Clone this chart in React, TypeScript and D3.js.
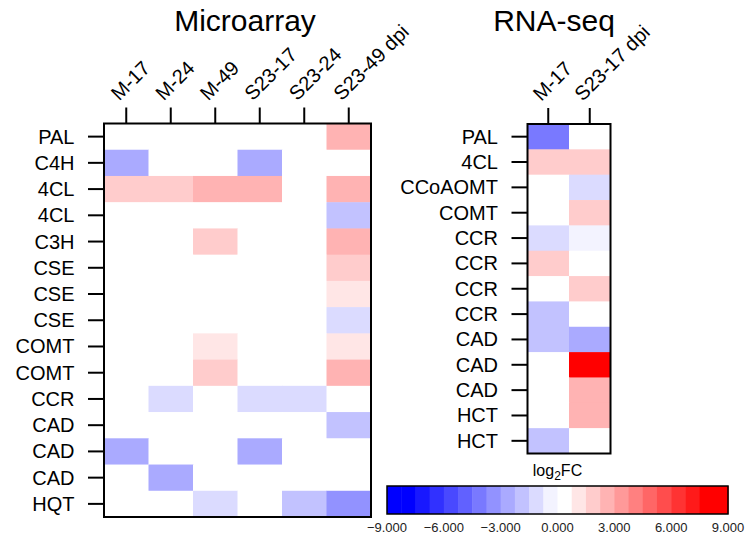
import React from 'react';
import * as d3 from 'd3';

const maGenes = ["PAL", "C4H", "4CL", "4CL", "C3H", "CSE", "CSE", "CSE", "COMT", "COMT", "CCR", "CAD", "CAD", "CAD", "HQT"];
const maSamples = ["M-17", "M-24", "M-49", "S23-17", "S23-24", "S23-49 dpi"];
const maValues = [
  [0, 0, 0, 0, 0, 2.6],
  [-2.6, 0, 0, -2.6, 0, 0],
  [1.9, 1.9, 2.6, 2.6, 0, 2.6],
  [0, 0, 0, 0, 0, -1.9],
  [0, 0, 1.9, 0, 0, 2.6],
  [0, 0, 0, 0, 0, 1.9],
  [0, 0, 0, 0, 0, 1.1],
  [0, 0, 0, 0, 0, -1.1],
  [0, 0, 1.1, 0, 0, 1.1],
  [0, 0, 1.9, 0, 0, 2.6],
  [0, -1.1, 0, -1.1, -1.1, 0],
  [0, 0, 0, 0, 0, -1.9],
  [-2.6, 0, 0, -2.6, 0, 0],
  [0, -2.6, 0, 0, 0, 0],
  [0, 0, -1.1, 0, -1.9, -3.4],
];

const rsGenes = ["PAL", "4CL", "CCoAOMT", "COMT", "CCR", "CCR", "CCR", "CCR", "CAD", "CAD", "CAD", "HCT", "HCT"];
const rsSamples = ["M-17", "S23-17 dpi"];
const rsValues = [
  [-4.1, 0],
  [1.9, 1.9],
  [0, -1.1],
  [0, 1.9],
  [-1.1, -0.4],
  [1.9, 0],
  [0, 1.9],
  [-1.9, 0],
  [-1.9, -2.6],
  [0, 8.5],
  [0, 2.6],
  [0, 2.6],
  [-1.9, 0],
];

const legendTicks = [-9, -6, -3, 0, 3, 6, 9];
const legendDomain: [number, number] = [-9, 9];
const nBins = 24;

const binColors = d3.range(nBins).map((k) => {
  if (k < 12) {
    const t = Math.min(1, (11.5 - k) / 10.5);
    return d3.interpolateRgb('#ffffff', '#0000ff')(t);
  }
  const t = Math.min(1, (k - 12) / 10);
  return d3.interpolateRgb('#ffffff', '#ff0000')(t);
});

const color = d3.scaleQuantize<string>().domain(legendDomain).range(binColors);

const FONT = "'Liberation Sans', Arial, sans-serif";

type HMProps = {
  genes: string[];
  samples: string[];
  values: number[][];
  x0: number; x1: number; y0: number; y1: number;
  title: string; titleX: number;
};

function Heatmap({ genes, samples, values, x0, x1, y0, y1, title, titleX }: HMProps) {
  const xs = d3.scaleBand<number>().domain(d3.range(samples.length)).range([x0, x1]);
  const ys = d3.scaleBand<number>().domain(d3.range(genes.length)).range([y0, y1]);
  const bw = xs.bandwidth();
  const bh = ys.bandwidth();
  return (
    <g>
      <text x={titleX} y={31} textAnchor="middle" fontSize={30} fontFamily={FONT} fill="#000">{title}</text>
      {values.map((row, i) =>
        row.map((v, j) => (
          <rect key={`${i}-${j}`} x={xs(j)!} y={ys(i)!} width={bw + 0.5} height={bh + 0.5} fill={color(v)} />
        ))
      )}
      <rect x={x0} y={y0} width={x1 - x0} height={y1 - y0} fill="none" stroke="#000" strokeWidth={2} />
      {samples.map((s, j) => {
        const cx = xs(j)! + bw / 2;
        return (
          <g key={`c${j}`}>
            <line x1={cx} x2={cx} y1={y0 - 16} y2={y0} stroke="#000" strokeWidth={2} />
            <text transform={`translate(${cx - 7},${y0 - 22}) rotate(-45)`} fontSize={20} fontFamily={FONT} fill="#000">{s}</text>
          </g>
        );
      })}
      {genes.map((g, i) => {
        const cy = ys(i)! + bh / 2;
        return (
          <g key={`r${i}`}>
            <line x1={x0 - 16} x2={x0} y1={cy} y2={cy} stroke="#000" strokeWidth={2} />
            <text x={x0 - 29.5} y={cy + 7} textAnchor="end" fontSize={20} fontFamily={FONT} fill="#000">{g}</text>
          </g>
        );
      })}
    </g>
  );
}

function Legend() {
  const lx0 = 387, lx1 = 728, ly0 = 486, ly1 = 514;
  const xs = d3.scaleLinear().domain(legendDomain).range([lx0, lx1]);
  const step = (legendDomain[1] - legendDomain[0]) / nBins;
  return (
    <g>
      <text x={(lx0 + lx1) / 2} y={476} textAnchor="middle" fontSize={16} fontFamily={FONT} fill="#000">
        log<tspan fontSize={12} dy={4}>2</tspan><tspan dy={-4}>FC</tspan>
      </text>
      {binColors.map((c, k) => {
        const a = xs(legendDomain[0] + k * step);
        const b = xs(legendDomain[0] + (k + 1) * step);
        return <rect key={k} x={a} y={ly0} width={b - a + 0.5} height={ly1 - ly0} fill={c} />;
      })}
      <rect x={lx0} y={ly0} width={lx1 - lx0} height={ly1 - ly0} fill="none" stroke="#000" strokeWidth={1.5} />
      {legendTicks.map((t) => (
        <text key={t} x={xs(t)} y={532} textAnchor="middle" fontSize={13} fontFamily={FONT} fill="#222">{d3.format('.3f')(t)}</text>
      ))}
    </g>
  );
}

export default function App() {
  return (
    <svg width={750} height={546} style={{ position: 'absolute', left: 0, top: 0, background: '#fff' }}>
      <rect width={750} height={546} fill="#fff" />
      <Heatmap genes={maGenes} samples={maSamples} values={maValues} x0={104} x1={371} y0={123.5} y1={517} title="Microarray" titleX={245} />
      <Heatmap genes={rsGenes} samples={rsSamples} values={rsValues} x0={527.5} x1={610.5} y0={124} y1={453.5} title="RNA-seq" titleX={554} />
      <Legend />
    </svg>
  );
}
